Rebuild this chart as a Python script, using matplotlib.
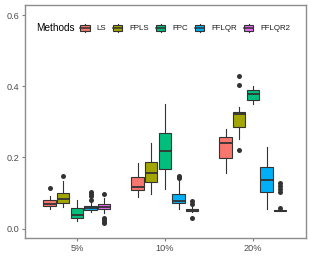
import matplotlib
matplotlib.use("Agg")
import matplotlib.pyplot as plt
from matplotlib.patches import Rectangle, Patch
from matplotlib.lines import Line2D
from matplotlib.legend_handler import HandlerBase

plt.rcParams['font.family'] = ['Liberation Sans', 'DejaVu Sans']

# donnees : [whislo, q1, med, q3, whishi] par groupe
groups = ['5%', '10%', '20%']
methods = ['LS', 'FPLS', 'FPC', 'FFLQR', 'FFLQR2']
colors = ['#F8766D', '#A3A500', '#00BF7D', '#00B0F6', '#E76BF3']

ls_box = [[0.055, 0.064, 0.070, 0.081, 0.092],
          [0.090, 0.109, 0.116, 0.144, 0.184],
          [0.156, 0.198, 0.240, 0.258, 0.280]]
fpls_box = [[0.060, 0.073, 0.083, 0.101, 0.135],
            [0.097, 0.131, 0.157, 0.187, 0.242],
            [0.251, 0.285, 0.321, 0.329, 0.341]]
fpc_box = [[0.022, 0.031, 0.038, 0.059, 0.081],
           [0.111, 0.167, 0.217, 0.270, 0.350],
           [0.350, 0.362, 0.379, 0.389, 0.401]]
fflqr_box = [[0.048, 0.053, 0.058, 0.064, 0.072],
             [0.054, 0.071, 0.078, 0.098, 0.137],
             [0.055, 0.104, 0.136, 0.173, 0.229]]
fflqr2_box = [[0.045, 0.054, 0.062, 0.069, 0.085],
              [0.047, 0.050, 0.052, 0.055, 0.060],
              [0.049, 0.050, 0.051, 0.052, 0.054]]

ls_out = [[0.115], [], []]
fpls_out = [[0.149], [], [0.430, 0.403, 0.220]]
fpc_out = [[], [], []]
fflqr_out = [[0.102, 0.098, 0.092, 0.080], [0.148, 0.145, 0.142], []]
fflqr2_out = [[0.097, 0.030, 0.025, 0.020, 0.017], [0.077, 0.069, 0.031], [0.127, 0.119, 0.111, 0.104, 0.057]]

all_box = [ls_box, fpls_box, fpc_box, fflqr_box, fflqr2_box]
all_out = [ls_out, fpls_out, fpc_out, fflqr_out, fflqr2_out]

edge = '#333333'
lw = 0.8


class BoxHandler(HandlerBase):
    # petite boite a moustache dans la legende
    def create_artists(self, legend, orig_handle, xdescent, ydescent,
                       width, height, fontsize, trans):
        x0, y0 = -xdescent, -ydescent
        fc = orig_handle.get_facecolor()
        rect = Rectangle((x0, y0 + 0.17 * height), width, 0.66 * height,
                         facecolor=fc, edgecolor=edge, lw=lw, transform=trans)
        med = Line2D([x0, x0 + width], [y0 + 0.5 * height] * 2, color=edge, lw=1.1, transform=trans)
        w1 = Line2D([x0 + width / 2] * 2, [y0, y0 + 0.17 * height], color=edge, lw=lw, transform=trans)
        w2 = Line2D([x0 + width / 2] * 2, [y0 + 0.83 * height, y0 + height], color=edge, lw=lw, transform=trans)
        return [w1, w2, rect, med]


fig = plt.figure(figsize=(3.11, 2.59), dpi=100)
ax = fig.add_axes([0.0804, 0.0799, 0.9026, 0.902])

step = 0.155
for m in range(len(methods)):
    stats = []
    for g in range(len(groups)):
        lo, q1, med, q3, hi = all_box[m][g]
        stats.append(dict(whislo=lo, q1=q1, med=med, q3=q3, whishi=hi, fliers=all_out[m][g]))
    pos = [g + 1 + (m - 2) * step for g in range(len(groups))]
    ax.bxp(stats, positions=pos, widths=0.14, patch_artist=True, showcaps=False,
           boxprops=dict(facecolor=colors[m], edgecolor=edge, lw=lw),
           medianprops=dict(color=edge, lw=1.3),
           whiskerprops=dict(color=edge, lw=lw),
           flierprops=dict(marker='o', markerfacecolor=edge, markeredgecolor='none', markersize=3.6))

ax.set_xlim(0.41, 3.60)
ax.set_ylim(-0.027, 0.629)
ax.set_xticks([1, 2, 3])
ax.set_xticklabels(groups)
ax.set_yticks([0.0, 0.2, 0.4, 0.6])
ax.set_yticklabels(['0.0', '0.2', '0.4', '0.6'])
ax.tick_params(colors='#7F7F7F', labelcolor='#4D4D4D', labelsize=6.6, length=2.5, width=0.8, pad=1.5)
for s in ax.spines.values():
    s.set_color('#8C8C8C')
    s.set_linewidth(1.0)

handles = [Patch(facecolor=c) for c in colors]
fig.text(36 / 311, 1 - 28 / 259, 'Methods', fontsize=7.2, color='black', va='center', ha='left')
leg = fig.legend(handles, methods, handler_map={Patch: BoxHandler()}, ncol=5,
                 loc='center left', bbox_to_anchor=(80 / 311, 1 - 28 / 259), frameon=False,
                 fontsize=5.7, handlelength=1.2, handleheight=1.25, handletextpad=0.9,
                 columnspacing=0.85, borderpad=0, borderaxespad=0)
for t in leg.get_texts():
    t.set_color('#1A1A1A')

fig.savefig('out.png', dpi=100)
